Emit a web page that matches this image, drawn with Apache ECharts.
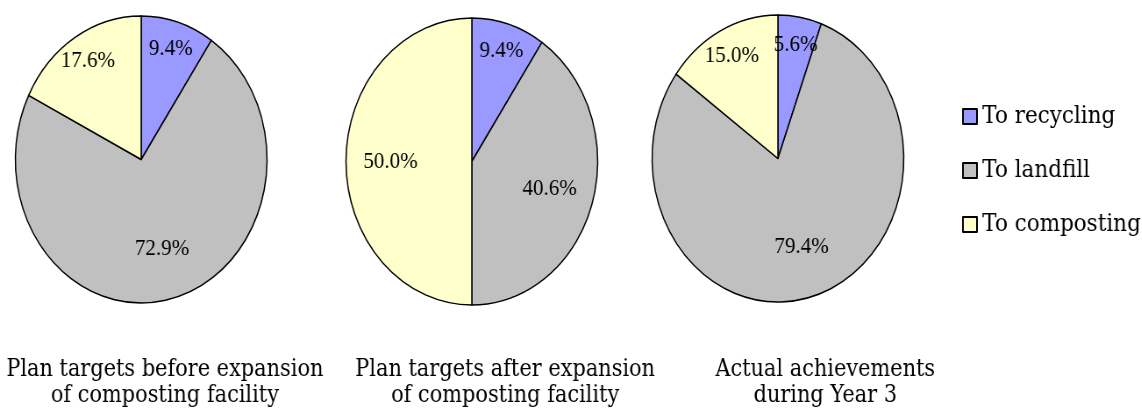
<!DOCTYPE html>
<html>
<head>
<meta charset="utf-8">
<script src="https://cdn.jsdelivr.net/npm/echarts@6/dist/echarts.min.js"></script>
<style>
  html, body { margin: 0; padding: 0; background: #fff; overflow: hidden; }
  /* the original picture is squeezed horizontally, so the pies look like ellipses */
  #chart { width: 1302px; height: 409px; transform: scaleX(0.877); transform-origin: 0 0; }
</style>
</head>
<body>
<div id="chart"></div>
<script>
const categories = ['To recycling', 'To landfill', 'To composting'];
const beforeExpansion = [9.4, 72.9, 17.6];
const afterExpansion = [9.4, 40.6, 50.0];
const actualYear3 = [5.6, 79.4, 15.0];
const pieTitles = [
  'Plan targets before expansion\nof composting facility',
  'Plan targets after expansion\nof composting facility',
  'Actual achievements\nduring Year 3',
];
const sliceColors = ['#9999FF', '#C0C0C0', '#FFFFCC'];

const pieData = [beforeExpansion, afterExpansion, actualYear3];
const pieCenters = [[161, 159.5], [538, 161.5], [887, 158.5]];
const titleCenters = [188, 576, 941];
const R = 143.5;

function toItems(values) {
  return values.map((v, i) => ({
    name: categories[i],
    value: v,
    itemStyle: { color: sliceColors[i] },
  }));
}

const series = [];
pieData.forEach((values, k) => {
  series.push({
    type: 'pie',
    center: pieCenters[k],
    radius: [0, R],
    startAngle: 90,
    clockwise: true,
    avoidLabelOverlap: false,
    silent: true,
    label: { show: false },
    labelLine: { show: false },
    itemStyle: { borderColor: '#000', borderWidth: 1.5 },
    data: toItems(values),
  });
});
// transparent rings only to carry the labels; small slices near the rim, big ones further in
pieData.forEach((values, k) => {
  [[R * 0.57, R, (v) => v < 30], [R * 0.25, R, (v) => v >= 30]].forEach(([r0, r1, pick]) => {
    series.push({
      type: 'pie',
      center: pieCenters[k],
      radius: [r0, r1],
      startAngle: 90,
      clockwise: true,
      avoidLabelOverlap: false,
      silent: true,
      labelLine: { show: false },
      itemStyle: { color: 'transparent', borderWidth: 0 },
      data: values.map((v, i) => ({
        name: categories[i],
        value: v,
        label: {
          show: pick(v),
          position: 'inside',
          formatter: (p) => p.value.toFixed(1) + '%',
          color: '#000',
          fontFamily: 'Liberation Serif',
          fontSize: 24,
        },
      })),
    });
  });
});

const chart = echarts.init(document.getElementById('chart'));
chart.setOption({
  animation: false,
  title: pieTitles.map((t, k) => ({
    text: t,
    left: titleCenters[k],
    top: 357,
    padding: 0,
    textAlign: 'center',
    textStyle: {
      fontFamily: 'DejaVu Serif',
      fontWeight: 'normal',
      fontSize: 23.8,
      lineHeight: 26,
      color: '#000',
    },
  })),
  legend: {
    orient: 'vertical',
    left: 1092,
    top: 99,
    itemWidth: 16,
    itemHeight: 15,
    itemGap: 29,
    icon: 'rect',
    data: categories,
    textStyle: {
      fontFamily: 'DejaVu Serif',
      fontSize: 24.5,
      lineHeight: 25,
      color: '#000',
      padding: [0, 0, 0, 1],
    },
  },
  series: series,
});
</script>
</body>
</html>
